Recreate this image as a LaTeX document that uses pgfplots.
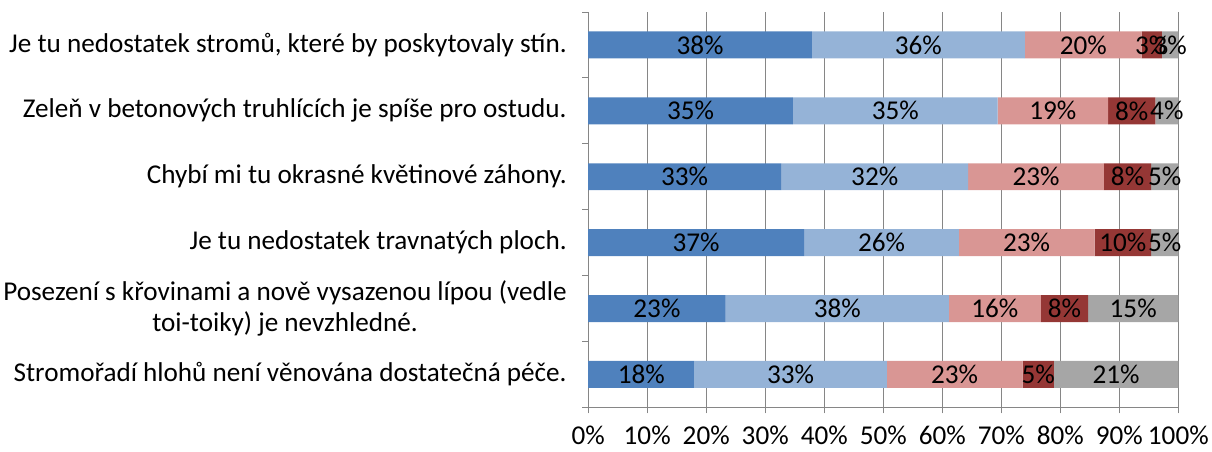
\documentclass[border=0pt]{standalone}
\usepackage{pgfplots}
\usepackage{pgfplotstable}
\pgfplotsset{compat=1.18}
\usepackage{fontspec}
\setmainfont{Carlito}
\definecolor{c1}{HTML}{4F81BD}
\definecolor{c2}{HTML}{95B3D7}
\definecolor{c3}{HTML}{D99694}
\definecolor{c4}{HTML}{953735}
\definecolor{c5}{HTML}{A6A6A6}
\definecolor{gridc}{HTML}{868686}
\newcommand{\cf}{\fontsize{27.3}{31}\selectfont}
\pgfplotstableread{
y d1 d2 d3 d4 d5
0 18.0 32.6 23.0 5.3 21.1
1 23.3 37.8 15.6 8.0 15.3
2 36.6 26.2 23.0 9.6 4.6
3 32.7 31.7 23.0 8.0 4.6
4 34.7 34.7 18.7 8.0 3.9
5 37.9 36.1 19.8 3.4 2.8
}\datatable
\pgfplotstableread{
x y l
9.0 0 18\%
34.3 0 33\%
62.1 0 23\%
76.25 0 5\%
89.45 0 21\%
11.65 1 23\%
42.2 1 38\%
68.9 1 16\%
80.7 1 8\%
92.35 1 15\%
18.3 2 37\%
49.7 2 26\%
74.3 2 23\%
90.6 2 10\%
97.7 2 5\%
16.35 3 33\%
48.55 3 32\%
75.9 3 23\%
91.4 3 8\%
97.7 3 5\%
17.35 4 35\%
52.05 4 35\%
78.75 4 19\%
92.1 4 8\%
98.05 4 4\%
18.95 5 38\%
55.95 5 36\%
83.9 5 20\%
95.5 5 3\%
98.6 5 3\%
}\labeltable
\begin{document}
\begin{tikzpicture}
\path (-588bp,-44bp) rectangle (624bp,408bp);
\begin{axis}[
  at={(0,0)}, anchor=south west,
  scale only axis, width=591bp, height=396bp,
  xbar stacked, bar width=27bp,
  xmin=0, xmax=100, ymin=-0.5, ymax=5.5,
  axis x line*=bottom, axis y line*=left,
  axis line style={gridc, line width=0.8bp},
  xmajorgrids, major grid style={gridc, line width=0.8bp},
  xtick={0,10,...,100},
  xticklabels={0\%,10\%,20\%,30\%,40\%,50\%,60\%,70\%,80\%,90\%,100\%},
  x tick style={gridc, line width=0.8bp},
  tick align=outside, major tick length=6bp,
  xticklabel style={font=\cf, yshift=-9bp},
  ytick={0,...,5},
  y tick style={draw=none},
  yticklabels={
    Stromořadí hlohů není věnována dostatečná péče.,
    {Posezení s křovinami a nově vysazenou lípou (vedle\\toi-toiky) je nevzhledné.},
    Je tu nedostatek travnatých ploch.,
    Chybí mi tu okrasné květinové záhony.,
    Zeleň v betonových truhlících je spíše pro ostudu.,
    {Je tu nedostatek stromů, které by poskytovaly stín.}},
  yticklabel style={font=\cf, align=center, xshift=-12bp},
  extra y ticks={-0.5,0.5,...,5.5},
  extra y tick labels={},
  extra y tick style={y tick style={draw=gridc, line width=0.8bp}, major tick length=6bp},
]
\addplot[fill=c1, draw=none] table[x=d1, y=y] {\datatable};
\addplot[fill=c2, draw=none] table[x=d2, y=y] {\datatable};
\addplot[fill=c3, draw=none] table[x=d3, y=y] {\datatable};
\addplot[fill=c4, draw=none] table[x=d4, y=y] {\datatable};
\addplot[fill=c5, draw=none] table[x=d5, y=y] {\datatable};
\end{axis}
\begin{axis}[
  at={(0,0)}, anchor=south west,
  scale only axis, width=591bp, height=396bp,
  xmin=0, xmax=100, ymin=-0.5, ymax=5.5,
  hide axis, clip=false,
]
\addplot[draw=none, mark=none, nodes near coords, point meta=explicit symbolic,
  every node near coord/.append style={anchor=center, font=\cf, inner sep=0pt}]
  table[x=x, y=y, meta=l] {\labeltable};
\end{axis}
\end{tikzpicture}
\end{document}
